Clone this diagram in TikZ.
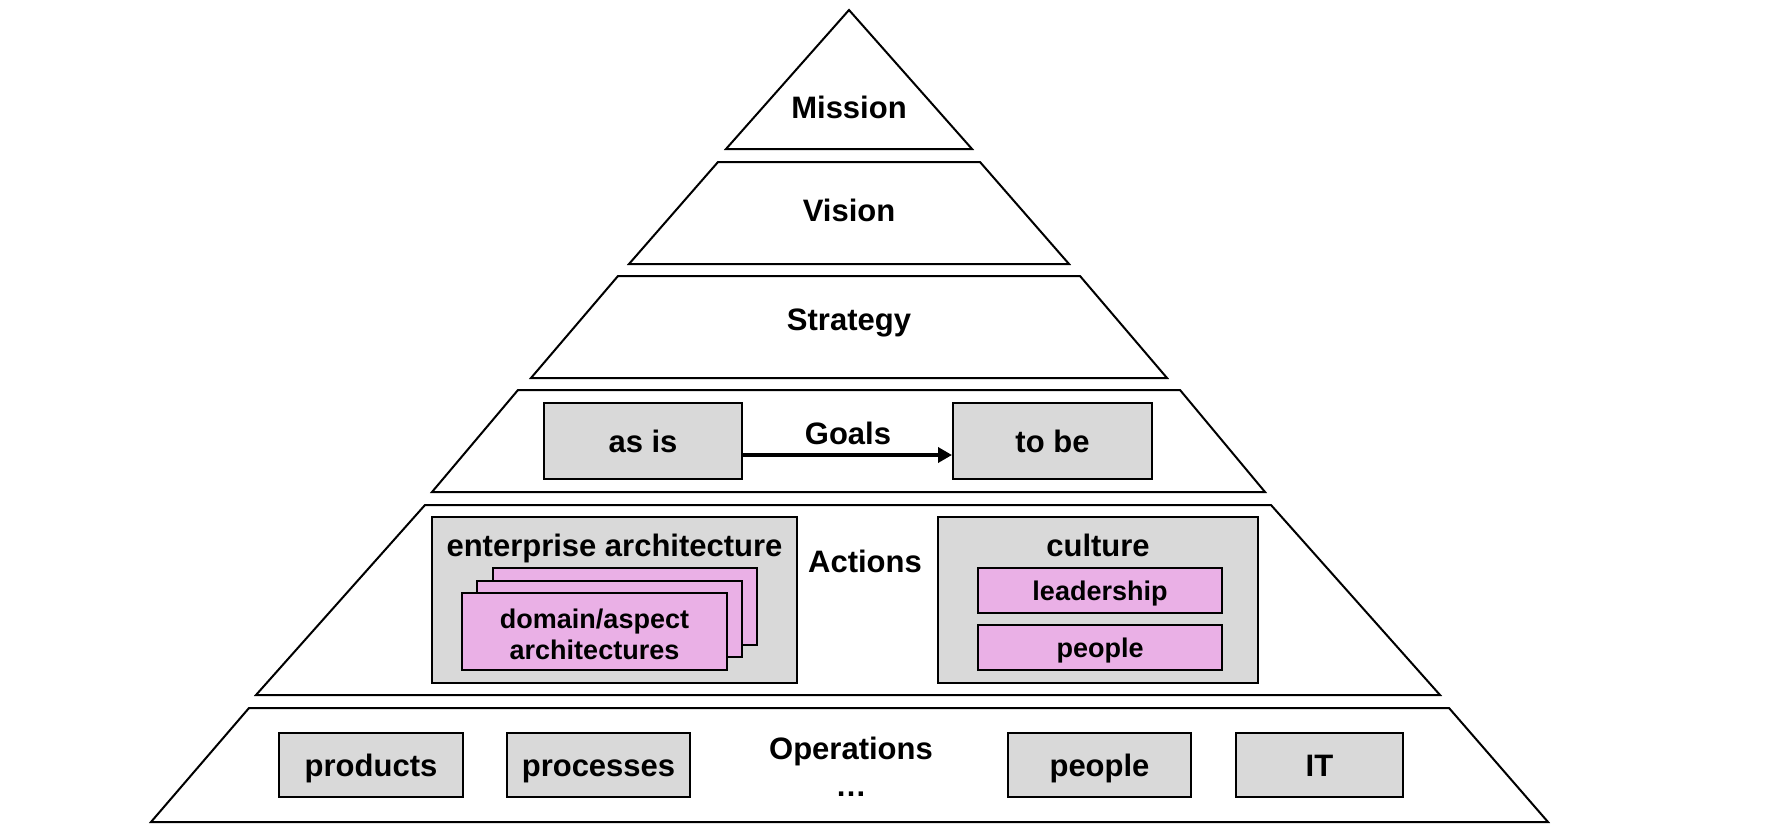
\documentclass[tikz,border=0pt]{standalone}
\usepackage{fontspec}
\setmainfont{Liberation Sans}
\usetikzlibrary{arrows.meta}
\definecolor{boxgrey}{RGB}{217,217,217}
\definecolor{boxpink}{RGB}{234,176,230}

\begin{document}
\begin{tikzpicture}[x=0.5pt,y=-0.5pt,
  layer/.style={draw,line width=1pt,line join=miter},
  lbl/.style={inner sep=0pt,font=\bfseries\fontsize{15.5}{18}\selectfont},
  greybox/.style={draw,line width=1pt,fill=boxgrey,inner sep=0pt,text height=11.4pt,text depth=0pt,font=\bfseries\fontsize{15.5}{18}\selectfont},
  pinkbox/.style={draw,line width=1pt,fill=boxpink,inner sep=0pt,text height=10.4pt,text depth=0pt,font=\bfseries\fontsize{13.5}{15.5}\selectfont},
  cardtext/.style={inner sep=0pt,align=center,font=\bfseries\fontsize{13.5}{15.5}\selectfont}]
\useasboundingbox[fill=white] (0,0) rectangle (1782,840);
% pyramid layers
\draw[layer] (849,10) -- (972,149) -- (726,149) -- cycle;
\draw[layer] (718,162) -- (980,162) -- (1069,264) -- (629,264) -- cycle;
\draw[layer] (618,276) -- (1080,276) -- (1167,378) -- (531,378) -- cycle;
\draw[layer] (518,390) -- (1180,390) -- (1265,492) -- (432,492) -- cycle;
\draw[layer] (425,505) -- (1271,505) -- (1440,695) -- (256,695) -- cycle;
\draw[layer] (249,708) -- (1449,708) -- (1548,822) -- (151,822) -- cycle;
\node[lbl] (mission) at (849,107) {Mission};
\node[lbl] (vision) at (849,210) {Vision};
\node[lbl] (strategy) at (849,323) {Strategy};
% goals
\node[lbl] (goals) at (848,433) {Goals};
\node[greybox,minimum width=99pt,minimum height=38pt] (asis) at (643,441) {as is};
\node[greybox,minimum width=99.5pt,minimum height=38pt] (tobe) at (1052.5,441) {to be};
\draw[line width=1.8pt,-{Triangle[length=7pt,width=7.5pt]}] ([yshift=-7pt]asis.east) -- ([yshift=-7pt]tobe.west);
% actions
\node[lbl] (actions) at (865,561) {Actions};
\node[greybox,minimum width=182.5pt,minimum height=83pt] (ea) at (614.5,600) {};
\node[lbl] (eatxt) at (614.5,548) {enterprise architecture};
\node[pinkbox,minimum width=132pt,minimum height=38.5pt] (card3) at (625,606.5) {};
\node[pinkbox,minimum width=132.5pt,minimum height=38pt] (card2) at (609.5,619) {};
\node[pinkbox,minimum width=132.5pt,minimum height=38.5pt] (card1) at (594.5,631.5) {};
\node[cardtext] (cardtxt) at (594.5,634) {domain/aspect\\architectures};
\node[greybox,minimum width=160pt,minimum height=83pt] (culture) at (1098,600) {};
\node[lbl] (culturetxt) at (1098,545) {culture};
\node[pinkbox,minimum width=122pt,minimum height=22.5pt] (leadership) at (1100,590.5) {leadership};
\node[pinkbox,minimum width=122pt,minimum height=22.5pt] (staff) at (1100,647.5) {people};
% operations
\node[lbl] (operations) at (851,751) {Operations};
\node[lbl] (dots) at (851,794) {\ldots};
\node[greybox,minimum width=92pt,minimum height=32pt] (products) at (371,765) {products};
\node[greybox,minimum width=91.5pt,minimum height=32pt] (processes) at (598.5,765) {processes};
\node[greybox,minimum width=91.5pt,minimum height=32pt] (people) at (1099.5,765) {people};
\node[greybox,minimum width=83.5pt,minimum height=32pt] (it) at (1319.5,765) {IT};
\end{tikzpicture}
\end{document}
